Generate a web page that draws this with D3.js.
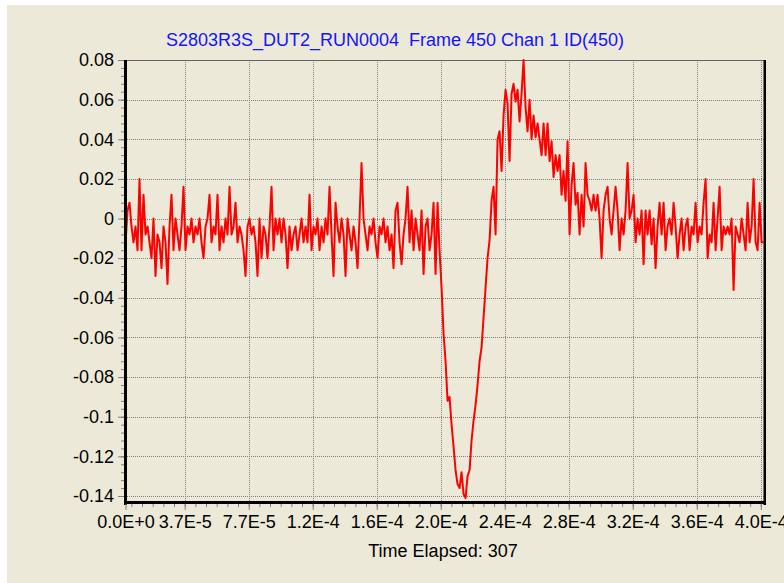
<!DOCTYPE html>
<html>
<head>
<meta charset="utf-8">
<script src="https://cdn.jsdelivr.net/npm/d3@7"></script>
<style>
html, body { margin: 0; padding: 0; background: #ffffff; }
svg { display: block; font-family: "Liberation Sans", Arial, sans-serif; }
</style>
</head>
<body>
<svg id="chart" width="784" height="583"></svg>
<script>
var chartTitle = 'S2803R3S_DUT2_RUN0004  Frame 450 Chan 1 ID(450)'
var xTitle = 'Time Elapsed: 307'
var sampleStep = 1.25e-6 // seconds between samples
var xTicks = [0, 3.7e-5, 7.7e-5, 1.17e-4, 1.57e-4, 1.97e-4, 2.37e-4, 2.77e-4, 3.17e-4, 3.57e-4, 3.97e-4]
var yTicks = [0.08, 0.06, 0.04, 0.02, 0, -0.02, -0.04, -0.06, -0.08, -0.1, -0.12, -0.14]
var signal = [
    -0.013, 0.004, 0.008, -0.004, -0.012, -0.004, -0.016, 0.020, -0.016, 0.012, -0.008, -0.004, -0.012, -0.020, 0.000, -0.029, -0.008, -0.012, -0.025, -0.004,
    -0.012, -0.033, -0.004, 0.012, -0.016, 0.000, -0.008, -0.016, -0.004, 0.016, -0.016, -0.004, -0.008, 0.000, -0.012, -0.004, -0.008, 0.000, -0.012, -0.020,
    -0.004, 0.000, 0.012, -0.012, -0.004, -0.008, 0.012, -0.016, -0.004, -0.012, 0.000, -0.008, 0.016, -0.008, -0.004, 0.008, -0.012, -0.004, -0.008, -0.016,
    -0.029, -0.004, 0.000, -0.008, -0.004, -0.012, -0.029, 0.000, -0.020, -0.004, -0.008, -0.020, -0.004, 0.016, -0.016, 0.000, -0.008, 0.000, -0.012, 0.000,
    -0.008, -0.025, -0.004, -0.016, -0.008, -0.004, -0.016, -0.008, 0.000, -0.012, -0.004, -0.012, 0.012, -0.016, -0.004, -0.008, 0.000, -0.016, -0.004, -0.012,
    0.000, -0.008, 0.016, -0.008, -0.029, 0.008, -0.004, -0.012, 0.000, -0.008, -0.029, 0.000, -0.008, -0.016, -0.004, -0.012, -0.025, 0.000, 0.028, 0.000,
    -0.008, -0.016, -0.004, -0.008, 0.000, -0.012, -0.020, -0.004, -0.008, 0.000, -0.012, -0.004, -0.016, -0.008, -0.025, 0.004, 0.008, -0.012, -0.023, -0.008,
    0.000, 0.016, -0.012, 0.004, -0.016, 0.000, -0.008, -0.016, 0.004, -0.028, -0.004, 0.000, -0.016, -0.008, 0.008, -0.028, 0.008, -0.016, -0.035, -0.058,
    -0.072, -0.092, -0.090, -0.104, -0.115, -0.127, -0.134, -0.136, -0.128, -0.139, -0.141, -0.130, -0.127, -0.112, -0.102, -0.094, -0.084, -0.072, -0.065, -0.050,
    -0.035, -0.020, -0.011, 0.009, 0.016, -0.008, 0.040, 0.044, 0.024, 0.052, 0.065, 0.058, 0.029, 0.063, 0.068, 0.059, 0.065, 0.049, 0.063, 0.080,
    0.056, 0.044, 0.060, 0.040, 0.052, 0.041, 0.048, 0.040, 0.032, 0.048, 0.032, 0.048, 0.029, 0.039, 0.021, 0.032, 0.024, 0.032, 0.012, 0.024,
    0.009, 0.039, -0.008, 0.017, 0.028, 0.007, 0.013, -0.008, 0.012, -0.004, 0.028, 0.012, 0.009, 0.004, 0.012, 0.004, 0.012, 0.000, -0.020, 0.004,
    0.012, 0.016, 0.000, -0.008, 0.004, 0.016, 0.004, -0.016, 0.000, -0.008, 0.004, 0.028, 0.000, 0.004, 0.012, -0.012, 0.000, -0.008, 0.004, -0.023,
    0.004, -0.008, 0.004, -0.013, 0.000, -0.025, -0.004, 0.008, -0.008, 0.008, -0.016, -0.004, 0.000, -0.008, 0.008, -0.004, -0.020, -0.008, 0.000, -0.016,
    -0.004, 0.000, -0.016, -0.004, -0.008, 0.008, -0.012, -0.004, -0.008, 0.008, 0.020, -0.020, -0.008, -0.012, 0.008, -0.016, 0.000, 0.016, -0.016, -0.004,
    -0.008, -0.004, -0.008, 0.000, -0.036, -0.004, -0.008, -0.012, 0.000, -0.008, -0.016, 0.008, -0.012, -0.004, 0.020, -0.012, -0.016, 0.008, -0.012, -0.012
]

var layout = {
    left: 125.5, right: 764, top: 60, bottom: 496, axisY: 503,
    bg: '#ece9d8', grid: '#808080', line: '#ff0000', title: '#1414ff'
}

var svg = d3.select('#chart')

svg.append('rect')
    .attr('x', 7).attr('y', 5)
    .attr('width', 777).attr('height', 578)
    .attr('fill', layout.bg)

var x = d3.scaleLinear()
    .domain([0, 3.99e-4])
    .range([layout.left, layout.right])

var y = d3.scaleLinear()
    .domain([-0.14, 0.08])
    .range([layout.bottom, layout.top])

// dotted grid
var grid = svg.append('g')
    .attr('id', 'grid')
    .attr('stroke', layout.grid)
    .attr('stroke-width', 1)
    .attr('stroke-dasharray', '1,1')
    .attr('shape-rendering', 'crispEdges')

grid.selectAll('line.h')
    .data(yTicks)
    .enter()
    .append('line')
    .attr('class', 'h')
    .attr('x1', 125).attr('x2', layout.right)
    .attr('y1', function (d) { return Math.round(y(d)) + 0.5 })
    .attr('y2', function (d) { return Math.round(y(d)) + 0.5 })

grid.selectAll('line.v')
    .data(xTicks.filter(function (d) { return d > 0 }))
    .enter()
    .append('line')
    .attr('class', 'v')
    .attr('y1', layout.top).attr('y2', layout.axisY)
    .attr('x1', function (d) { return Math.round(x(d)) + 0.5 })
    .attr('x2', function (d) { return Math.round(x(d)) + 0.5 })

// top border
svg.append('line')
    .attr('x1', 125).attr('x2', layout.right)
    .attr('y1', 60.5).attr('y2', 60.5)
    .attr('stroke', '#606060')

// trace
var trace = d3.line()
    .x(function (d, i) { return x(i * sampleStep) })
    .y(function (d) { return y(d) })

svg.append('path')
    .datum(signal)
    .attr('d', trace)
    .attr('fill', 'none')
    .attr('stroke', layout.line)
    .attr('stroke-width', 2)
    .attr('stroke-linejoin', 'round')

// frame lines
svg.append('rect').attr('x', 124).attr('y', 60).attr('width', 3).attr('height', 445).attr('fill', '#000')
svg.append('rect').attr('x', 124).attr('y', 501).attr('width', 642).attr('height', 3).attr('fill', '#000')
svg.append('rect').attr('x', 763.5).attr('y', 60).attr('width', 2.5).attr('height', 445).attr('fill', '#000')

// y axis
var yMinor = d3.range(-35, 21).map(function (k) { return k * 0.004 })
svg.append('g')
    .attr('transform', 'translate(124, 0)')
    .call(d3.axisLeft(y).tickValues(yMinor).tickSize(3).tickFormat(''))
    .call(function (g) { g.select('.domain').remove() })
    .selectAll('line').attr('stroke', layout.grid)

var yAxis = d3.axisLeft(y)
    .tickValues(yTicks)
    .tickSize(6)
    .tickPadding(4)
    .tickFormat(function (d) { return String(+d.toFixed(2)) })

var yAxisElement = svg.append('g')
    .attr('id', 'y-axis')
    .attr('transform', 'translate(124, 0)')
    .call(yAxis)

yAxisElement.select('.domain').remove()
yAxisElement
    .attr('font-family', null)
    .attr('font-size', 18)
yAxisElement.selectAll('line').attr('stroke', layout.grid)
yAxisElement.selectAll('text').attr('fill', '#000')

// x axis
var xMinor = d3.range(-5, 61).map(function (k) { return 3.7e-5 + k * 4e-5 / 6 })
    .filter(function (d) { return d >= 0 && d <= 3.99e-4 })
svg.append('g')
    .attr('transform', 'translate(0, 504)')
    .call(d3.axisBottom(x).tickValues(xMinor).tickSize(3).tickFormat(''))
    .call(function (g) { g.select('.domain').remove() })
    .selectAll('line').attr('stroke', layout.grid)

var xAxis = d3.axisBottom(x)
    .tickValues(xTicks)
    .tickSize(6)
    .tickPadding(5)
    .tickFormat(function (d) { return d.toExponential(1).toUpperCase() })

var xAxisElement = svg.append('g')
    .attr('id', 'x-axis')
    .attr('transform', 'translate(0, 504)')
    .call(xAxis)

xAxisElement.select('.domain').remove()
xAxisElement
    .attr('font-family', null)
    .attr('font-size', 18)
xAxisElement.selectAll('line').attr('stroke', layout.grid)
xAxisElement.selectAll('text').attr('fill', '#000')

// titles
svg.append('text')
    .attr('x', 395)
    .attr('y', 46)
    .attr('text-anchor', 'middle')
    .attr('font-size', 18)
    .attr('fill', layout.title)
    .style('white-space', 'pre')
    .text(chartTitle)

svg.append('text')
    .attr('x', 443)
    .attr('y', 557)
    .attr('text-anchor', 'middle')
    .attr('font-size', 18)
    .attr('fill', '#000')
    .text(xTitle)
</script>
</body>
</html>
